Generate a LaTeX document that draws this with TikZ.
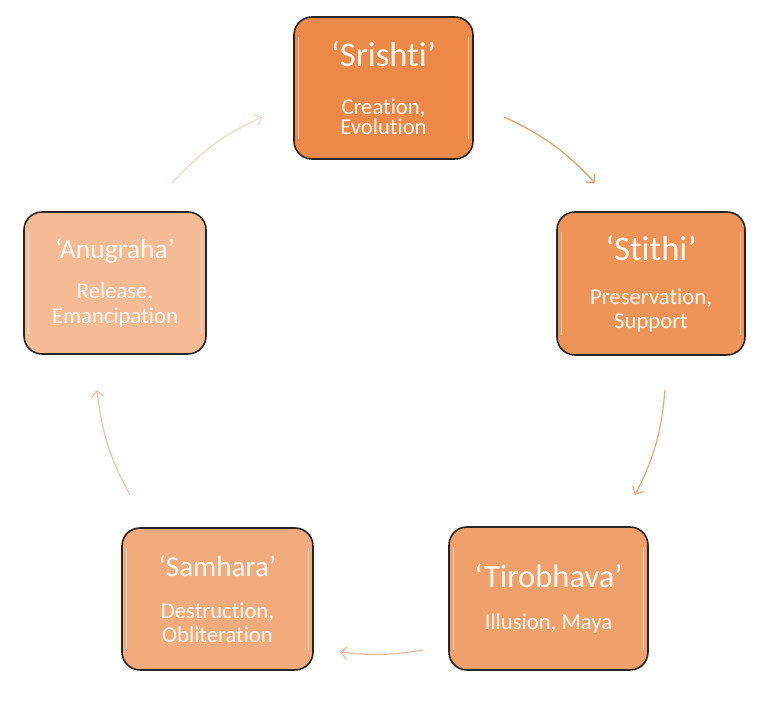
\documentclass[tikz,border=0pt]{standalone}
\usepackage{fontspec}
\setmainfont{Carlito}[Ligatures=NoCommon]
\usetikzlibrary{arrows.meta}
\definecolor{srishticol}{HTML}{ED8948}
\definecolor{stithicol}{HTML}{EF9458}
\definecolor{tirocol}{HTML}{F0A06A}
\definecolor{samharacol}{HTML}{F2AB7C}
\definecolor{anucol}{HTML}{F4BB94}
\definecolor{textcol}{HTML}{FFF8F2}
\begin{document}
\begin{tikzpicture}[x=0.75pt,y=0.75pt,
    stage/.style ={rectangle, rounded corners=13.5pt, draw=black!85, line width=1.2pt, inner sep=0pt,
      align=center, text=textcol, font=\fontsize{17}{18}\selectfont,
      path picture={\draw[white,opacity=.6,line width=1pt]
        ([xshift=3.5pt,yshift=-15pt]path picture bounding box.north west) -- ([xshift=3.5pt,yshift=15pt]path picture bounding box.south west)
        ([xshift=-3.5pt,yshift=-15pt]path picture bounding box.north east) -- ([xshift=-3.5pt,yshift=15pt]path picture bounding box.south east);}},
    cycle/.style ={line width=0.9pt, -{Straight Barb[length=4.5pt,width=9pt]}}]
   \useasboundingbox (0,0) rectangle (774,705);
   \node[stage, fill=srishticol, minimum width=134.25pt, minimum height=106.5pt] (srishti) at (383.5,617)
     {{\fontsize{26}{30}\selectfont ‘Srishti’}\\[18pt]Creation,\\[-2.5pt]Evolution};
   \node[stage, fill=stithicol, minimum width=141pt, minimum height=107.25pt] (stithi) at (651,421.5)
     {{\fontsize{26}{30}\selectfont ‘Stithi’}\\[15pt]Preservation,\\Support};
   \node[stage, fill=tirocol, minimum width=149.25pt, minimum height=107.25pt] (tirobhava) at (548.5,106.5)
     {{\fontsize{24.4}{28}\selectfont ‘Tirobhava’}\\[14pt]Illusion, Maya};
   \node[stage, fill=samharacol, minimum width=143.25pt, minimum height=106.5pt] (samhara) at (217.5,106)
     {{\fontsize{21.8}{26}\selectfont ‘Samhara’}\\[13pt]Destruction,\\Obliteration};
   \node[stage, fill=anucol, minimum width=136.5pt, minimum height=106.5pt] (anugraha) at (115,422)
     {{\fontsize{20.7}{25}\selectfont ‘Anugraha’}\\[12pt]Release,\\[1pt]Emancipation};
   % arrow ends on the ring
   \coordinate (s1) at (504,588);  \coordinate (e1) at (595,522);
   \coordinate (s2) at (665,315);  \coordinate (e2) at (635,210);
   \coordinate (s3) at (423,55);   \coordinate (e3) at (340,53);
   \coordinate (s4) at (130,210);  \coordinate (e4) at (97,315);
   \coordinate (s5) at (172,522);  \coordinate (e5) at (262,588);
   \draw[cycle, draw={rgb,255:red,235;green,154;blue,104}] (s1) to [bend left=11] (e1);
   \draw[cycle, draw={rgb,255:red,237;green,163;blue,122}] (s2) to [bend left=11] (e2);
   \draw[cycle, draw={rgb,255:red,241;green,185;blue,162}] (s3) to [bend left=8] (e3);
   \draw[cycle, draw={rgb,255:red,243;green,194;blue,174}] (s4) to [bend left=11] (e4);
   \draw[cycle, draw={rgb,255:red,248;green,214;blue,198}] (s5) to [bend left=11] (e5);
 \end{tikzpicture}
\end{document}
